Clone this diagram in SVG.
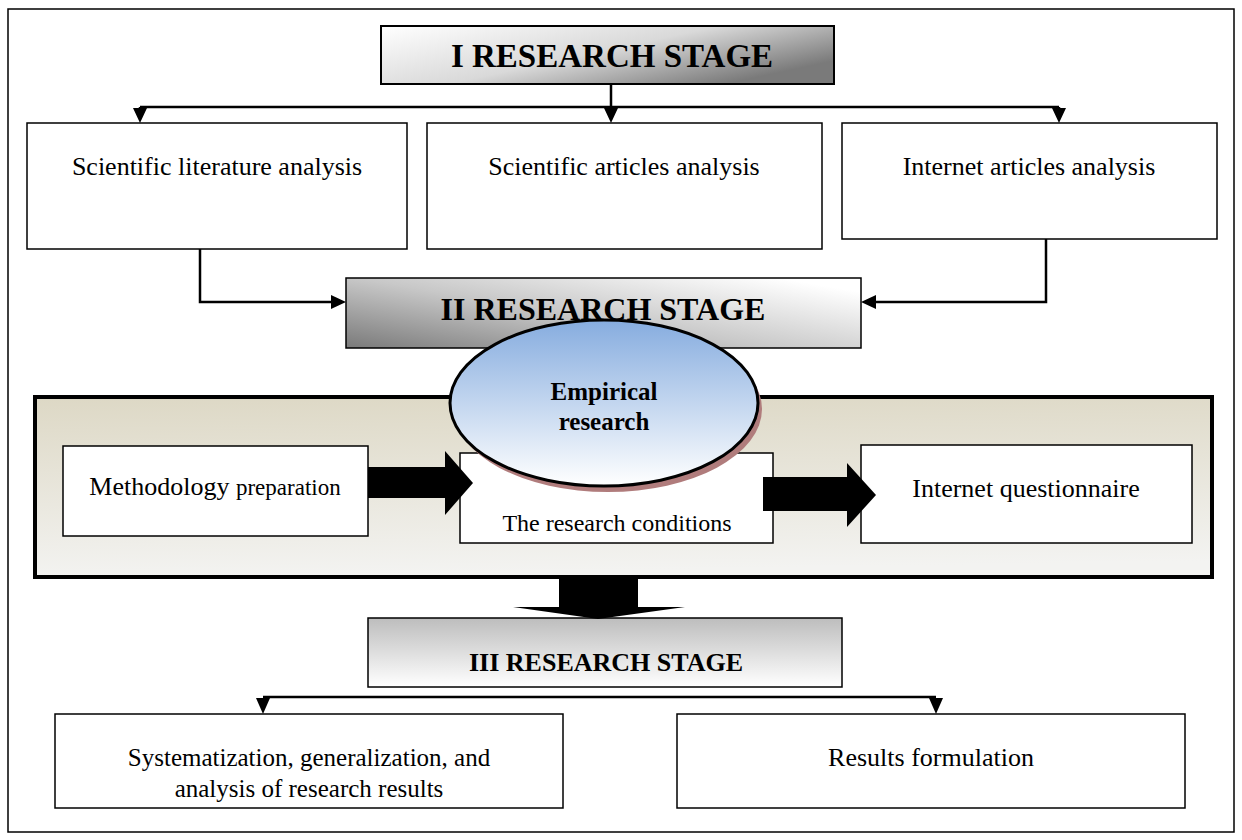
<svg xmlns="http://www.w3.org/2000/svg" width="1242" height="840" viewBox="0 0 1242 840">
<style>
.box{fill:#fff;stroke:#000;stroke-width:1.5}
.t{font-family:"Liberation Serif","Times New Roman",serif;fill:#000;text-anchor:middle}
.b{font-weight:bold}
.ln{fill:none;stroke:#000;stroke-width:2.5}
.ah{fill:#000}
</style>
<defs>
<linearGradient id="g1" x1="0" y1="0" x2="1" y2="0.6">
<stop offset="0" stop-color="#ffffff"/>
<stop offset="0.55" stop-color="#d9d9d9"/>
<stop offset="1" stop-color="#7a7a7a"/>
</linearGradient>
<linearGradient id="g2" x1="0" y1="1" x2="1" y2="0.2">
<stop offset="0" stop-color="#7a7a7a"/>
<stop offset="0.5" stop-color="#c8c8c8"/>
<stop offset="1" stop-color="#ffffff"/>
</linearGradient>
<linearGradient id="g3" x1="0" y1="0" x2="0" y2="1">
<stop offset="0" stop-color="#bdbdbd"/>
<stop offset="1" stop-color="#ffffff"/>
</linearGradient>
<linearGradient id="gp" x1="0" y1="0" x2="0.1" y2="1">
<stop offset="0" stop-color="#ddd8c5"/>
<stop offset="1" stop-color="#f3f3f1"/>
</linearGradient>
<linearGradient id="ge" x1="0" y1="0" x2="0" y2="1">
<stop offset="0" stop-color="#86acdf"/>
<stop offset="1" stop-color="#ffffff"/>
</linearGradient>
</defs>
<rect x="8" y="9" width="1226" height="823" fill="#fff" stroke="#000" stroke-width="1.5"/>

<g id="stage1">
<rect x="381" y="26" width="453" height="58" fill="url(#g1)" stroke="#000" stroke-width="2"/>
<text class="t b" x="612" y="67" font-size="33">I RESEARCH STAGE</text>
</g>

<g id="lit">
<rect class="box" x="27" y="123" width="380" height="126"/>
<text class="t" x="217" y="175" font-size="26">Scientific literature analysis</text>
</g>
<g id="art">
<rect class="box" x="427" y="123" width="395" height="126"/>
<text class="t" x="624" y="175" font-size="26">Scientific articles analysis</text>
</g>
<g id="inet">
<rect class="box" x="842" y="123" width="375" height="116"/>
<text class="t" x="1029" y="175" font-size="26">Internet articles analysis</text>
</g>

<g id="stage2">
<rect x="346" y="278" width="515" height="70" fill="url(#g2)" stroke="#000" stroke-width="1.5"/>
<text class="t b" x="603" y="320" font-size="32">II RESEARCH STAGE</text>
</g>

<g id="panel">
<rect x="35" y="397" width="1177" height="180" fill="url(#gp)" stroke="#000" stroke-width="4"/>
</g>

<g id="method">
<rect class="box" x="63" y="446" width="305" height="90"/>
<text class="t" x="215" y="495" font-size="26">Methodology <tspan font-size="23">preparation</tspan></text>
</g>
<g id="cond">
<rect class="box" x="460" y="453" width="313" height="90"/>
<text class="t" x="617" y="531" font-size="24">The research conditions</text>
</g>
<g id="quest">
<rect class="box" x="861" y="445" width="331" height="98"/>
<text class="t" x="1026" y="497" font-size="26">Internet questionnaire</text>
</g>

<g id="empirical">
<ellipse cx="608" cy="409" rx="154" ry="83" fill="#b07c7c"/>
<ellipse cx="604" cy="403" rx="154" ry="83" fill="url(#ge)" stroke="#000" stroke-width="3"/>
<text class="t b" x="604" y="400" font-size="25">Empirical</text>
<text class="t b" x="604" y="430" font-size="25">research</text>
</g>

<g id="stage3">
<rect x="368" y="618" width="474" height="69" fill="url(#g3)" stroke="#000" stroke-width="1.5"/>
<text class="t b" x="606" y="671" font-size="26">III RESEARCH STAGE</text>
</g>

<g id="sys">
<rect class="box" x="55" y="714" width="508" height="94"/>
<text class="t" x="309" y="766" font-size="25">Systematization, generalization, and</text>
<text class="t" x="309" y="797" font-size="25">analysis of research results</text>
</g>
<g id="res">
<rect class="box" x="677" y="714" width="508" height="94"/>
<text class="t" x="931" y="766" font-size="26">Results formulation</text>
</g>

<g id="connectors">
<path class="ln" d="M611 84V107M140 107H1059M140 107V112M611 107V112M1059 107V112"/>
<path class="ah" d="M133 108H147L140 123ZM604 108H618L611 123ZM1052 108H1066L1059 123Z"/>
<path class="ln" d="M200 249V302H332"/>
<path class="ah" d="M331 295V309L346 302Z"/>
<path class="ln" d="M1046 239V302H875"/>
<path class="ah" d="M876 295V309L861 302Z"/>
<path class="ah" d="M368 467H445V451L473 483L445 515V498H368Z"/>
<path class="ah" d="M763 477H847V463L876 495L847 527V511H763Z"/>
<path class="ah" d="M559 577H638V607H685L598 619L513 607H559Z"/>
<path class="ln" d="M263 697H936"/>
<path class="ah" d="M256 698H270L263 714ZM929 698H943L936 714Z"/>
</g>
</svg>
